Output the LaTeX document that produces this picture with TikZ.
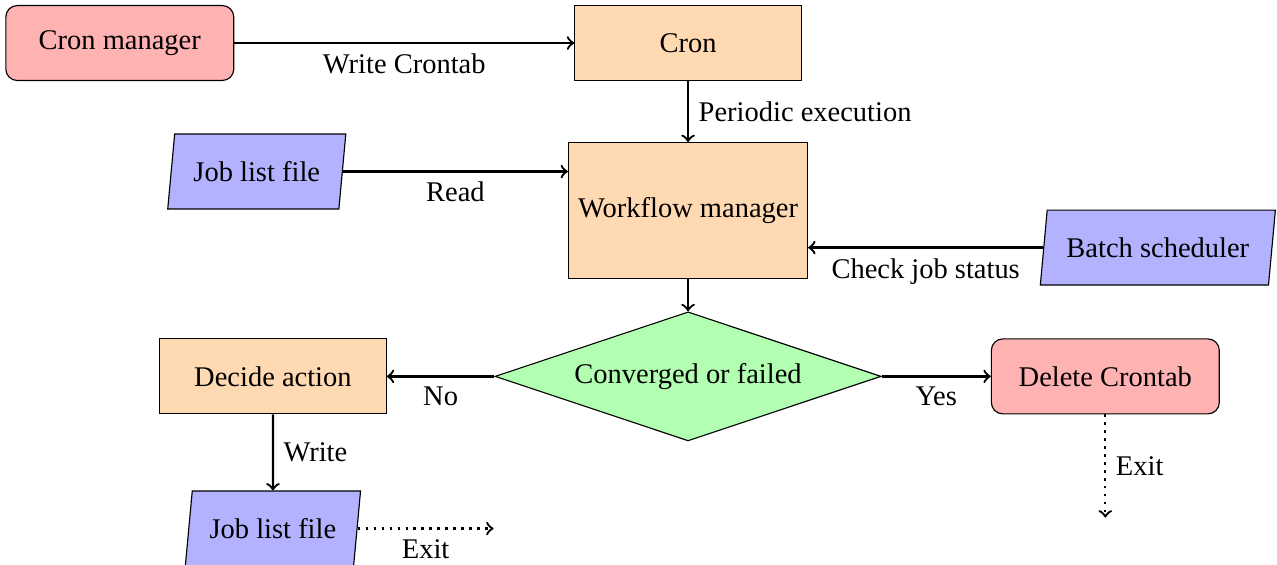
\documentclass[tikz,border=0pt]{standalone}
\usepackage{fontspec}
\setmainfont{Liberation Serif}
\usepackage{xcolor}
\usepackage{tikz}
\usetikzlibrary{arrows,positioning,shapes.geometric}
\tikzset{
  cronbox/.style={draw,rounded corners,fill=red!30,minimum width=80pt,minimum height=26.3pt,align=center},
  procbox/.style={draw,fill=orange!30,minimum width=79.5pt,minimum height=26.3pt,align=center},
  filebox/.style={draw,trapezium,trapezium left angle=80,trapezium right angle=100,trapezium stretches body,fill=blue!30,minimum width=62.5pt,minimum height=26.3pt},
  decbox/.style={draw,diamond,aspect=3,fill=green!30,inner sep=0pt,minimum width=135.5pt,minimum height=45.3pt},
  cronflow/.style={->,thick},
  cronexit/.style={->,thick,dotted},
}
\begin{document}
\begin{tikzpicture}
\useasboundingbox (-241.5pt,-183.2pt) rectangle (206.7pt,15.1pt);
\node[procbox](cron){Cron};
\node[cronbox,left=119.3pt of cron](cm){Cron manager};
\node[procbox,below=21.4pt of cron,minimum height=47.7pt](wf){Workflow manager};
\node[filebox,left=79pt of wf,yshift=13.7pt](jl){Job list file};
\node[filebox,right=82.5pt of wf,yshift=-13pt,minimum width=82.5pt](bs){Batch scheduler};
\node[decbox,below=11.3pt of wf](conv){Converged or failed};
\node[procbox,left=37.8pt of conv](act){Decide action};
\node[cronbox,right=38.3pt of conv](del){Delete Crontab};
\node[filebox,below=26.7pt of act,minimum width=61.5pt](jlout){Job list file};
\coordinate[below=36.2pt of del.south](delexit);
\coordinate[right=47.7pt of jlout.east](jlexit);
\draw[cronflow](cm)--node[below]{Write Crontab}(cron);
\draw[cronflow](cron)--node[right]{Periodic execution}(wf);
\draw[cronflow](jl.east)--node[below]{Read}(jl.east -| wf.west);
\draw[cronflow](bs.west)--node[below]{Check job status}(bs.west -| wf.east);
\draw[cronflow](wf)--(conv);
\draw[cronflow](conv)--node[below]{No}(act);
\draw[cronflow](conv)--node[below]{Yes}(del);
\draw[cronflow](act)--node[right]{Write}(jlout);
\draw[cronexit](del.south)--node[right]{Exit}(delexit);
\draw[cronexit](jlout.east)--node[below]{Exit}(jlexit);
\end{tikzpicture}
\end{document}
